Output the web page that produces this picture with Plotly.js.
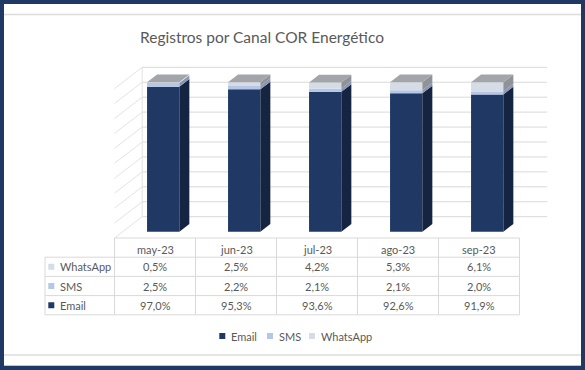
<!DOCTYPE html>
<html><head><meta charset="utf-8">
<script src="https://cdn.plot.ly/plotly-3.0.1.min.js"></script>
<style>html,body{margin:0;padding:0;background:#203864;overflow:hidden}#chart{width:585px;height:370px}</style>
</head><body><div id="chart"></div>
<script>
// ---------------- data ----------------
const months = ['may-23', 'jun-23', 'jul-23', 'ago-23', 'sep-23'];
const seriesNames = ['Email', 'SMS', 'WhatsApp'];
const email = [97.0, 95.3, 93.6, 92.6, 91.9];
const sms = [2.5, 2.2, 2.1, 2.1, 2.0];
const whatsapp = [0.5, 2.5, 4.2, 5.3, 6.1];
const tableOrder = ['WhatsApp', 'SMS', 'Email'];
const gridValues = [0, 10, 20, 30, 40, 50, 60, 70, 80, 90, 100];
const titleText = 'Registros por Canal COR Energético';

// ---------------- style / geometry ----------------
const values = {Email: email, SMS: sms, WhatsApp: whatsapp};
const FRONT = {Email: '#203864', SMS: '#b4c7e7', WhatsApp: '#d6dce5'};
const SIDE = {Email: '#152441', SMS: '#8797b5', WhatsApp: '#8f9398'};
const TOPC = '#a2a5a9';
const GRID = '#d9d9d9';
const TXT = '#595959';
const FONT = 'Lato, "Open Sans", sans-serif';
const W = 585, H = 370;
const PX_X = 81, PX_Y = 1.494, X0PX = 155, Y0PX = 238;
const ux = px => (px - X0PX) / PX_X;
const vy = py => (Y0PX - py) / PX_Y;
const DX = 27.7 / PX_X, DY = 21.3 / PX_Y;
const D_FRONT = 0.296, D_BACK = 0.657;
const BAR_W = 32.3 / PX_X;
const ddx = (D_BACK - D_FRONT) * DX, ddy = (D_BACK - D_FRONT) * DY;
const n = months.length;
const fmt = v => v.toFixed(1).replace('.', ',') + '%';

const traces = [];
const bases = {};
let cum = months.map(() => D_FRONT * DY);
seriesNames.forEach(s => {
  bases[s] = cum.slice();
  traces.push({
    type: 'bar', name: s,
    x: months.map((m, i) => i + D_FRONT * DX),
    y: values[s], base: cum.slice(), width: BAR_W,
    marker: {color: FRONT[s], line: {width: 0}},
    hoverinfo: 'skip', showlegend: false
  });
  cum = cum.map((c, i) => c + values[s][i]);
});
// side faces
seriesNames.forEach(s => {
  const xs = [], ys = [];
  months.forEach((m, i) => {
    const xr = i + D_FRONT * DX + BAR_W / 2;
    const y0 = bases[s][i], y1 = y0 + values[s][i];
    xs.push(xr, xr + ddx, xr + ddx, xr, xr, null);
    ys.push(y0, y0 + ddy, y1 + ddy, y1, y0, null);
  });
  traces.push({type: 'scatter', mode: 'lines', x: xs, y: ys, fill: 'toself',
    fillcolor: SIDE[s], line: {width: 0, color: SIDE[s]}, hoverinfo: 'skip', showlegend: false});
});
// top faces
{
  const xs = [], ys = [];
  months.forEach((m, i) => {
    const xl = i + D_FRONT * DX - BAR_W / 2, xr = xl + BAR_W;
    const T = cum[i];
    xs.push(xl, xr, xr + ddx, xl + ddx, xl, null);
    ys.push(T, T, T + ddy, T + ddy, T, null);
  });
  traces.push({type: 'scatter', mode: 'lines', x: xs, y: ys, fill: 'toself',
    fillcolor: TOPC, line: {width: 0, color: TOPC}, hoverinfo: 'skip', showlegend: false});
}

// ---------------- shapes ----------------
const shapes = [];
const line = (x0, y0, x1, y1, c, w) => shapes.push({type: 'line', xref: 'x', yref: 'y', x0, y0, x1, y1,
  layer: 'below', line: {color: c || GRID, width: w || 1}});
gridValues.forEach(v => {
  line(-0.5 + DX, v + DY, n - 0.5 + DX, v + DY);
  line(-0.5, v, -0.5 + DX, v + DY, '#e3e3e3');
});
line(-0.5 + DX, DY, -0.5 + DX, gridValues[gridValues.length - 1] + DY, '#e3e3e3');
// frame lines
line(ux(4), vy(14.5), ux(581), vy(14.5), '#dcdcdc', 1.5);
line(ux(4), vy(355), ux(581), vy(355), '#dcdcdc', 1.5);
// table
const ROW_H = 19.2, LEFT_PX = 45;
line(-0.5, 0, n - 0.5, 0);
for (let k = 1; k <= tableOrder.length + 1; k++) {
  line(ux(LEFT_PX), vy(Y0PX + k * ROW_H), n - 0.5, vy(Y0PX + k * ROW_H));
}
for (let c = 0; c <= n; c++) line(c - 0.5, 0, c - 0.5, vy(Y0PX + (tableOrder.length + 1) * ROW_H));
line(ux(LEFT_PX), vy(Y0PX + ROW_H), ux(LEFT_PX), vy(Y0PX + (tableOrder.length + 1) * ROW_H));

// ---------------- annotations ----------------
const ann = [];
const txt = (x, y, text, size, anchor) => ann.push({xref: 'x', yref: 'y', x, y, text, showarrow: false,
  xanchor: anchor || 'center', yanchor: 'middle', font: {family: FONT, size: size || 11, color: TXT}});
const square = (pxl, pyc, color) => shapes.push({type: 'rect', xref: 'x', yref: 'y',
  x0: ux(pxl), x1: ux(pxl + 6), y0: vy(pyc - 3), y1: vy(pyc + 3), line: {width: 0}, fillcolor: color});

txt(ux(262), vy(37), titleText, 15.5);
months.forEach((m, i) => txt(i, vy(Y0PX + 11.5), m));
tableOrder.forEach((s, k) => {
  const yc = Y0PX + (k + 1.5) * ROW_H;
  square(48.3, yc, FRONT[s]);
  txt(ux(58), vy(yc), s, 11, 'left');
  values[s].forEach((v, i) => txt(i, vy(yc), fmt(v)));
});
// legend
const legendX = [219.3, 267, 309];
seriesNames.forEach((s, k) => {
  square(legendX[k], 336, FRONT[s]);
  txt(ux(legendX[k] + 9.5), vy(336), s, 11, 'left');
});

const layout = {
  width: W, height: H, autosize: false,
  margin: {l: 0, r: 0, t: 0, b: 0, pad: 0},
  paper_bgcolor: '#203864', plot_bgcolor: '#ffffff',
  barmode: 'overlay', showlegend: false,
  xaxis: {domain: [4 / W, 581 / W], range: [ux(4), ux(581)], visible: false, fixedrange: true},
  yaxis: {domain: [1 - 365.7 / H, 1 - 4 / H], range: [vy(365.7), vy(4)], visible: false, fixedrange: true},
  shapes, annotations: ann
};
Plotly.newPlot('chart', traces, layout, {displayModeBar: false, staticPlot: true});
</script></body></html>
